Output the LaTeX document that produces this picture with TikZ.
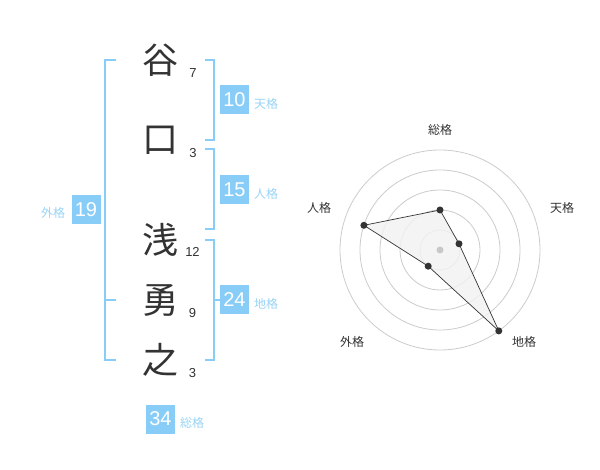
\documentclass[tikz,border=0pt]{standalone}
\usepackage{fontspec}
\setmainfont{Liberation Sans}
\newfontfamily\cjk{Noto Sans CJK JP}
\definecolor{bl}{HTML}{88CDF8}
\definecolor{lbl}{HTML}{9AD4F6}
\definecolor{dk}{HTML}{333333}
\definecolor{ring}{HTML}{CCCCCC}
\definecolor{area}{HTML}{F2F2F2}
\definecolor{cdot}{HTML}{C8C8C8}
\begin{document}
\begin{tikzpicture}[x=1pt,y=-1pt,
  kanji/.style={font=\cjk\fontsize{36}{36}\selectfont, text=dk, inner sep=0pt},
  strk/.style={font=\fontsize{13}{13}\selectfont, text=dk, inner sep=0pt},
  valbox/.style={fill=bl, text=white, minimum size=29pt, inner sep=0pt, font=\fontsize{20}{20}\selectfont},
  lab/.style={font=\cjk\fontsize{12}{12}\selectfont, text=lbl, inner sep=0pt},
  brk/.style={draw=bl, line width=1.6pt},
  rlab/.style={font=\cjk\fontsize{12}{12}\selectfont, text=dk, inner sep=0pt},
  rdot/.style={circle, fill=dk, inner sep=0pt, minimum size=7pt}]
\useasboundingbox (0,0) rectangle (600,470);
\fill[white] (0,0) rectangle (600,470);

% brackets
\draw[brk] (116,60) -- (105,60) -- (105,360) -- (116,360);
\draw[brk] (105,300) -- (116,300);
\draw[brk] (205,60) -- (214,60) -- (214,140) -- (205,140);
\draw[brk] (205,149) -- (214,149) -- (214,229) -- (205,229);
\draw[brk] (205,240) -- (214,240) -- (214,360) -- (205,360);
\draw[brk] (214,300) -- (221,300);

% characters
\node[kanji] (c1) at (160,60) {谷};
\node[kanji] (c2) at (160,140) {口};
\node[kanji] (c3) at (160,240) {浅};
\node[kanji] (c4) at (160,300) {勇};
\node[kanji] (c5) at (160,360) {之};

\node[strk] (n1) at (193,73) {7};
\node[strk] (n2) at (193,153) {3};
\node[strk] (n3) at (192.5,252) {12};
\node[strk] (n4) at (192.5,313) {9};
\node[strk] (n5) at (192.5,373) {3};

% value boxes
\node[valbox] (ten) at (234.5,100) {10};
\node[lab] (tenl) at (266,104) {天格};
\node[valbox] (jin) at (234.5,190) {15};
\node[lab] (jinl) at (266,194) {人格};
\node[valbox] (gai) at (86,210) {19};
\node[lab] (gail) at (53,213) {外格};
\node[valbox] (chi) at (234.5,300) {24};
\node[lab] (chil) at (266,304) {地格};
\node[valbox] (sou) at (160.5,419) {34};
\node[lab] (soul) at (192,423) {総格};

% radar
\coordinate (ctr) at (440,250);
\foreach \r in {20,40,60,80,100} \draw[ring, line width=0.8pt] (ctr) circle (\r);
\coordinate (ps) at (440,210);
\coordinate (pt) at (459.0,243.8);
\coordinate (pc) at (498.8,330.9);
\coordinate (pg) at (428.2,266.2);
\coordinate (pj) at (363.9,225.3);
\filldraw[fill=area, fill opacity=0.8, draw=dk, line width=0.7pt] (ps) -- (pt) -- (pc) -- (pg) -- (pj) -- cycle;
\fill[cdot] (ctr) circle (3.5);
\foreach \p in {ps,pt,pc,pg,pj} \node[rdot] at (\p) {};

\node[rlab] (rs) at (440,130) {総格};
\node[rlab] (rt) at (562,208) {天格};
\node[rlab] (rj) at (319,208) {人格};
\node[rlab] (rg) at (352,342) {外格};
\node[rlab] (rc) at (524,342) {地格};
\end{tikzpicture}
\end{document}
